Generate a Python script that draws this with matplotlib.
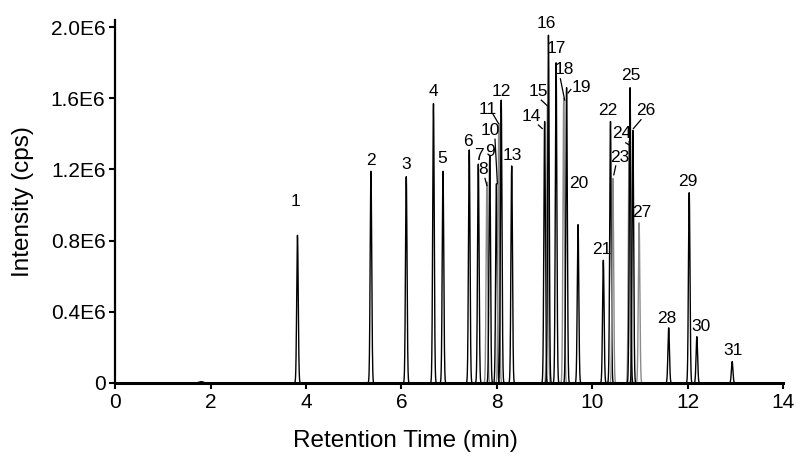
import matplotlib
matplotlib.use("Agg")
import matplotlib.pyplot as plt
import numpy as np

plt.rcParams['font.family'] = ['Liberation Sans', 'DejaVu Sans']

# peak table (retention time in min, height in cps)
peak_ids = [str(i) for i in range(1, 32)]
peak_rt = [3.82, 5.36, 6.10, 6.67, 6.87, 7.42, 7.61, 7.79, 7.85, 7.99,
           8.04, 8.09, 8.31, 9.00, 9.06, 9.08, 9.24, 9.40, 9.46, 9.70,
           10.23, 10.38, 10.43, 10.77, 10.79, 10.85, 10.98, 11.60, 12.03, 12.19,
           12.93]
peak_height = [0.83e6, 1.19e6, 1.16e6, 1.57e6, 1.19e6, 1.31e6, 1.23e6, 1.13e6, 1.28e6, 1.12e6,
               1.46e6, 1.59e6, 1.22e6, 1.47e6, 1.56e6, 1.955e6, 1.80e6, 1.60e6, 1.66e6, 0.89e6,
               0.69e6, 1.47e6, 1.15e6, 1.36e6, 1.66e6, 1.42e6, 0.90e6, 0.31e6, 1.07e6, 0.26e6,
               0.12e6]
grey_peaks = ["8", "11", "15", "18", "23", "24", "27"]
# small unlabeled bump near 1.8 min
bump_rt = [1.80]
bump_height = [0.008e6]

# label positions (layout) and leader-line ends
label_pos = {
    "1": (3.78, 1.02e6), "2": (5.36, 1.25e6), "3": (6.09, 1.23e6), "4": (6.66, 1.64e6),
    "5": (6.85, 1.26e6), "6": (7.39, 1.36e6), "7": (7.63, 1.28e6), "8": (7.71, 1.20e6),
    "9": (7.86, 1.30e6), "10": (7.86, 1.42e6), "11": (7.81, 1.54e6), "12": (8.09, 1.64e6),
    "13": (8.32, 1.28e6), "14": (8.72, 1.50e6), "15": (8.87, 1.64e6), "16": (9.03, 2.02e6),
    "17": (9.24, 1.88e6), "18": (9.41, 1.76e6), "19": (9.77, 1.66e6), "20": (9.71, 1.12e6),
    "21": (10.19, 0.75e6), "22": (10.32, 1.53e6), "23": (10.57, 1.27e6), "24": (10.61, 1.40e6),
    "25": (10.80, 1.73e6), "26": (11.11, 1.53e6), "27": (11.03, 0.96e6), "28": (11.55, 0.36e6),
    "29": (12.00, 1.13e6), "30": (12.27, 0.32e6), "31": (12.94, 0.18e6),
}
leaders = {
    "8": ((7.75, 1.15e6), (7.79, 1.11e6)),
    "10": ((7.96, 1.37e6), (8.01, 1.12e6)),
    "11": ((7.92, 1.51e6), (8.03, 1.46e6)),
    "14": ((8.87, 1.45e6), (8.95, 1.43e6)),
    "15": ((8.93, 1.59e6), (9.05, 1.56e6)),
    "18": ((9.33, 1.71e6), (9.42, 1.59e6)),
    "19": ((9.55, 1.65e6), (9.49, 1.63e6)),
    "23": ((10.49, 1.22e6), (10.45, 1.17e6)),
    "24": ((10.70, 1.35e6), (10.76, 1.34e6)),
    "26": ((11.02, 1.48e6), (10.86, 1.43e6)),
}

sigma = 0.016

fig = plt.figure(figsize=(8, 4.67), dpi=100)
ax = fig.add_axes([0.144, 0.18, 0.835, 0.777])

for rt, h in zip(bump_rt, bump_height):
    t = np.linspace(rt - 0.15, rt + 0.15, 200)
    ax.plot(t, h * np.exp(-0.5 * ((t - rt) / 0.05) ** 2), color='black', lw=0.8)

for pid, rt, h in zip(peak_ids, peak_rt, peak_height):
    t = np.linspace(rt - 0.09, rt + 0.09, 300)
    y = h * np.exp(-0.5 * ((t - rt) / sigma) ** 2)
    col = '#8a8a8a' if pid in grey_peaks else 'black'
    ax.plot(t, y, color=col, lw=1.0)

for pid in peak_ids:
    x, y = label_pos[pid]
    ax.text(x, y, pid, fontsize=12.5, ha='center', va='center')
    if pid in leaders:
        (x0, y0), (x1, y1) = leaders[pid]
        ax.plot([x0, x1], [y0, y1], color='black', lw=0.9)

ax.set_xlim(0, 14)
ax.set_ylim(0, 2.04e6)
ax.set_xticks(range(0, 15, 2))
ax.set_yticks([0, 0.4e6, 0.8e6, 1.2e6, 1.6e6, 2.0e6])
ax.set_yticklabels(["0", "0.4E6", "0.8E6", "1.2E6", "1.6E6", "2.0E6"])
ax.tick_params(axis='both', labelsize=15, direction='out', length=4, width=1.5, pad=3)

ax.spines['top'].set_visible(False)
ax.spines['right'].set_visible(False)
ax.spines['left'].set_linewidth(1.6)
ax.spines['bottom'].set_linewidth(2.2)

ax.set_xlabel("Retention Time (min)", fontsize=17.5)
ax.set_ylabel("Intensity (cps)", fontsize=17.5)
ax.xaxis.set_label_coords(0.434, -0.13)
ax.yaxis.set_label_coords(-0.122, 0.5)

fig.savefig("out.png", dpi=100)
